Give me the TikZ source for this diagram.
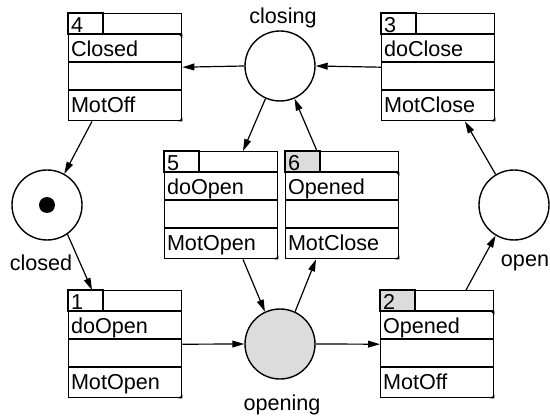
\documentclass[tikz,border=0pt]{standalone}
\usepackage{fontspec}
\setmainfont{Liberation Sans}
\usepackage{tikz}
\usetikzlibrary{arrows.meta}
\definecolor{ink}{HTML}{000000}
\definecolor{tokgray}{HTML}{DCDCDC}
\tikzset{
  place/.style ={circle,draw=ink,line width=0.7pt,minimum size=35pt,inner sep=0pt,fill=white},
  trans/.style ={rectangle,draw=ink,line width=0.7pt,minimum width=56.5pt,minimum height=53.5pt,
                 inner sep=0pt,fill=white,anchor=north west},
  cell/.style  ={draw=ink,line width=0.7pt},
  txt/.style   ={anchor=west,inner sep=0pt,text height=7.8pt,text depth=0pt,
                 font=\fontsize{10.8}{13}\selectfont},
  lbl/.style   ={inner sep=0pt,text height=7.8pt,text depth=0pt,font=\fontsize{10.8}{13}\selectfont},
  flow/.style  ={-{Triangle[length=6pt,width=3.4pt]},line width=0.6pt,draw=ink}
}

% #1 name, #2 top left, #3 number, #4 upper text, #5 lower text, #6 fill of number cell
\newcommand{\transbox}[6]{
  \node[trans] (#1) at (#2) {};
  \filldraw[cell,fill=#6] (#1.north west) rectangle ([xshift=17.5pt,yshift=-10.5pt]#1.north west);
  \draw[cell] ([yshift=-10.5pt]#1.north west) -- ([yshift=-10.5pt]#1.north east);
  \draw[cell] ([yshift=-24.5pt]#1.north west) -- ([yshift=-24.5pt]#1.north east);
  \draw[cell] ([yshift=-38.5pt]#1.north west) -- ([yshift=-38.5pt]#1.north east);
  \node[txt] (#1-num) at ([xshift=1.3pt,yshift=-5.8pt]#1.north west) {#3};
  \node[txt] (#1-up) at ([xshift=1.3pt,yshift=-17.8pt]#1.north west) {#4};
  \node[txt] (#1-low) at ([xshift=1.3pt,yshift=-46pt]#1.north west) {#5};
  \fill[ink] (#1.south east) -- ++(-2pt,0) -- ++(2pt,2pt) -- cycle;
}
% corner mark of a state box
\newcommand{\statemark}[1]{
  \fill[ink] ([yshift=-10.5pt]#1.north east) -- ++(-2pt,0) -- ++(2pt,-2pt) -- cycle;
}

\begin{document}
\begin{tikzpicture}[x=0.5pt,y=-0.5pt]
  \useasboundingbox (0,0) rectangle (550,416);

  % places
  \node[place] (closing) at (280,66) {};
  \node[place] (closed) at (47,205) {};
  \node[place] (open) at (514,205) {};
  \node[place,fill=tokgray] (opening) at (280,344) {};
  \node[circle,fill=ink,minimum size=8pt,inner sep=0pt] (token) at (closed) {};

  \node[lbl] (closing-l) at (283,16) {closing};
  \node[lbl] (closed-l) at (41,263) {closed};
  \node[lbl] (open-l) at (525,259) {open};
  \node[lbl] (opening-l) at (282,403) {opening};

  % transitions
  \transbox{b1}{68,290}{1}{doOpen}{MotOpen}{white}
  \transbox{b2}{380,290}{2}{Opened}{MotOff}{tokgray}
  \transbox{b3}{381,13}{3}{doClose}{MotClose}{white}
  \transbox{b4}{68,13}{4}{Closed}{MotOff}{white}
  \transbox{b5}{164,151}{5}{doOpen}{MotOpen}{white}
  \transbox{b6}{285,151}{6}{Opened}{MotClose}{tokgray}
  \statemark{b2}
  \statemark{b4}
  \statemark{b6}

  % arcs
  \draw[flow] (b3.west) -- (closing.east);
  \draw[flow] (closing.west) -- (b4.east);
  \draw[flow] ([xshift=12pt]b4.south west) -- (closed.61);
  \draw[flow] (closed.-55) -- ([xshift=12pt]b1.north west);
  \draw[flow] (b1.east) -- (opening.west);
  \draw[flow] (opening.east) -- (b2.west);
  \draw[flow] ([xshift=43pt]b2.north west) -- (open.239);
  \draw[flow] (open.121) -- ([xshift=42pt]b3.south west);
  \draw[flow] (closing.246) -- ([xshift=39.5pt]b5.north west);
  \draw[flow] ([xshift=16pt]b6.north west) -- (closing.294);
  \draw[flow] ([xshift=39.5pt]b5.south west) -- (opening.115);
  \draw[flow] (opening.65) -- ([xshift=15.5pt]b6.south west);
\end{tikzpicture}
\end{document}
